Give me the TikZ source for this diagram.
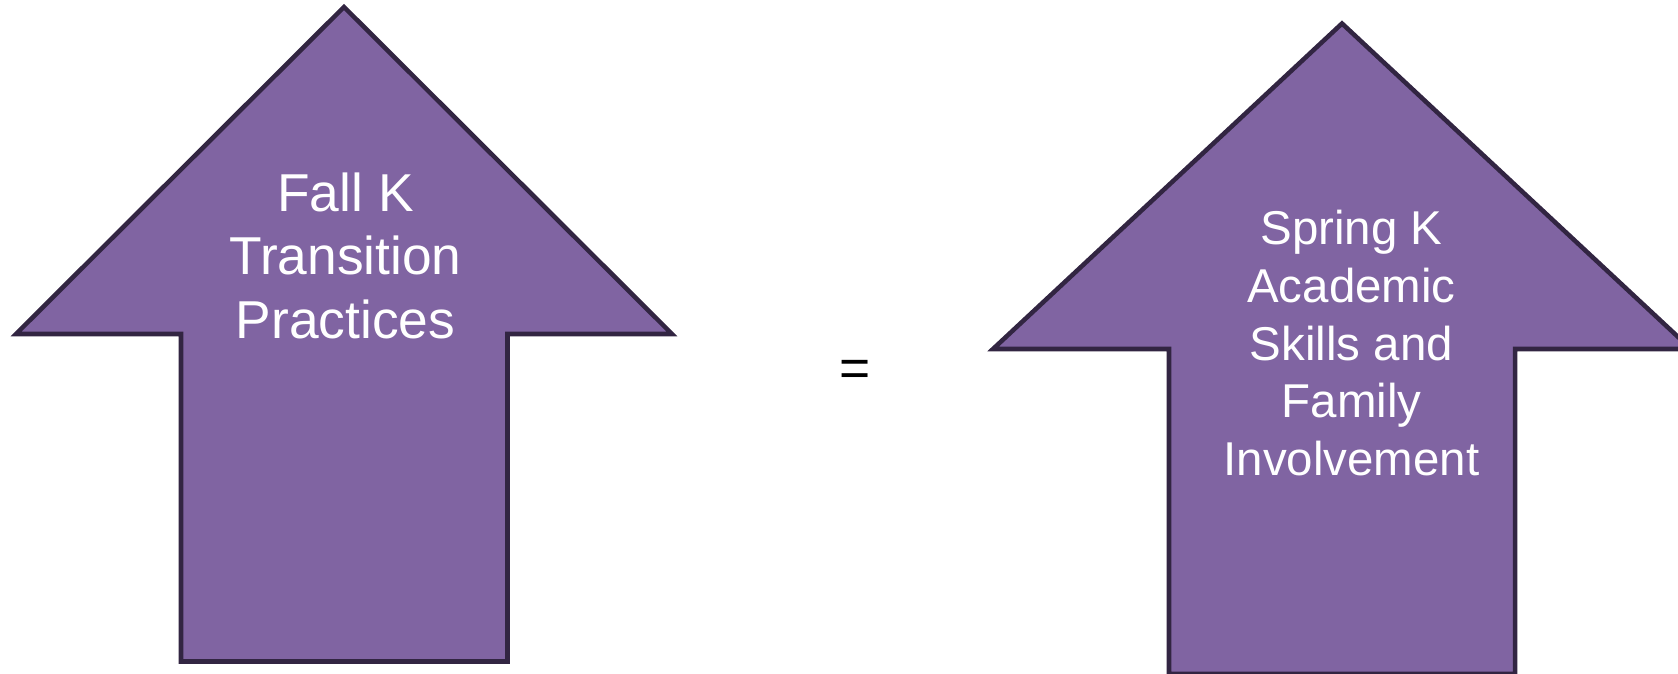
\documentclass[tikz,border=0pt]{standalone}
\usepackage{fontspec}
\setmainfont{Liberation Sans}
\definecolor{arrowfill}{HTML}{8064A2}
\definecolor{arrowline}{HTML}{322542}

\begin{document}
\begin{tikzpicture}[x=0.75pt, y=-0.75pt,
  upshape/.style={fill=arrowfill, draw=arrowline, line width=3.4pt, line join=miter},
  bigtext/.style={text=white, align=center, inner sep=0pt, anchor=north, font=\fontsize{40}{47.6}\selectfont},
  smalltext/.style={text=white, align=center, inner sep=0pt, anchor=north, font=\fontsize{35.6}{43.3}\selectfont}]
\useasboundingbox (0,0) rectangle (1678,674);
\clip (0,0) rectangle (1678,674);

\draw[upshape] (344,7) -- (672,334) -- (507.5,334) -- (507.5,661.5) -- (181,661.5) -- (181,334) -- (16,334) -- cycle;
\draw[upshape] (1342,23.5) -- (1691,349) -- (1515,349) -- (1515,674) -- (1169,674) -- (1169,349) -- (993,349) -- cycle;

\node[bigtext] (fall) at (345.5,172.5) {Fall K\\Transition\\Practices};
\node[smalltext] (spring) at (1351.5,210) {Spring K\\Academic\\Skills and\\Family\\Involvement};
\node[font=\fontsize{40}{47}\selectfont, inner sep=0pt] (equals) at (855.5,373) {=};
\end{tikzpicture}
\end{document}
